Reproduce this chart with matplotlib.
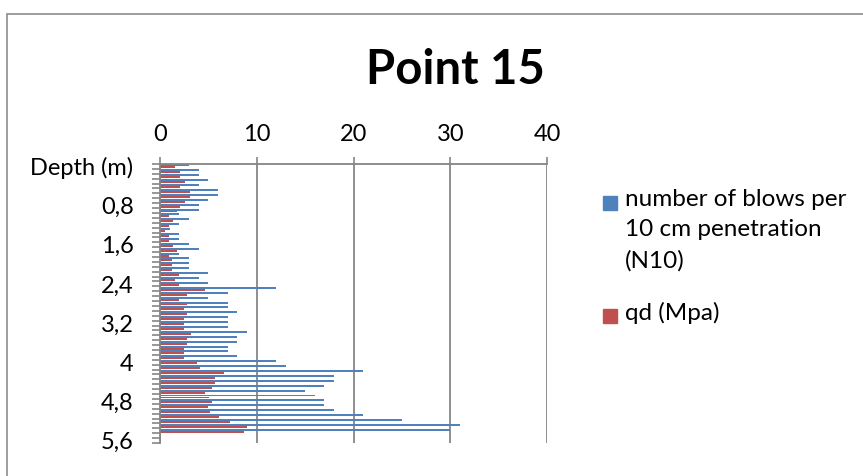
import numpy as np
import matplotlib
matplotlib.use("Agg")
import matplotlib.pyplot as plt
from matplotlib.patches import Rectangle

plt.rcParams['font.family'] = ['Lato', 'DejaVu Sans']

# depth categories (0.1 m steps), first one carries the header text
depth_labels = ["Depth (m)"] + [("%.1f" % (i / 10)).replace(".", ",").replace(",0", "") for i in range(1, 57)]

# number of blows per 10 cm penetration (N10)
blows = [3, 4, 4, 5, 4, 6, 6, 5, 4, 4,
         2, 3, 2, 1, 2, 2, 3, 4, 2, 3,
         3, 3, 5, 4, 5, 12, 7, 5, 7, 7,
         8, 7, 7, 7, 9, 8, 8, 7, 7, 8,
         12, 13, 21, 18, 18, 17, 15, 16, 17, 17,
         18, 21, 25, 31, 30, np.nan, np.nan]

# qd (Mpa)
qd = [1.55, 2.07, 2.07, 2.6, 2.07, 3.1, 3.1, 2.6, 2.07, 1.8,
      0.93, 1.35, 0.93, 0.5, 0.93, 0.93, 1.35, 1.8, 0.93, 1.2,
      1.2, 1.2, 2.0, 1.55, 2.0, 4.7, 2.76, 2.0, 2.76, 2.45,
      2.76, 2.45, 2.45, 2.45, 3.2, 2.76, 2.76, 2.45, 2.45, 2.5,
      3.8, 4.1, 6.65, 5.7, 5.7, 5.35, 4.7, 5.07, 5.35, 4.93,
      5.2, 6.07, 7.2, 8.97, 8.7, np.nan, np.nan]

series_names = ["number of blows per\n10 cm penetration\n(N10)", "qd (Mpa)"]
blue = "#4F81BD"
red = "#C0504D"

W, H = 863, 476
fig = plt.figure(figsize=(W / 100, H / 100), dpi=100)
ax = fig.add_axes([160 / W, 1 - 443 / H, 387 / W, 279 / H])

# chart frame
fig.patches.append(Rectangle((7 / W, -0.1), 1.1, 1.1 - 14 / H, transform=fig.transFigure,
                             fill=False, edgecolor="#8c8c8c", linewidth=1.2))

y = np.arange(len(depth_labels))
h = 0.4
ax.barh(y - h / 2, blows, height=h, color=blue, linewidth=0)
ax.barh(y + h / 2, qd, height=h, color=red, linewidth=0)

ax.set_xlim(0, 40)
ax.set_ylim(len(depth_labels) - 0.5, -0.5)
ax.set_xticks([0, 10, 20, 30, 40])
ax.xaxis.tick_top()
ax.grid(axis="x", color="#868686", linewidth=1.3)
ax.set_axisbelow(True)

ax.set_yticks(y[::8])
ax.set_yticklabels(depth_labels[::8])
ax.set_yticks(np.arange(-0.5, len(depth_labels)), minor=True)
ax.tick_params(axis="y", which="major", length=0, pad=19)
ax.tick_params(axis="y", which="minor", length=6, color="#868686", width=1.2)
ax.tick_params(axis="x", length=5, color="#868686", width=1.2, pad=9)
ax.tick_params(labelsize=17)

for s in ["right", "bottom"]:
    ax.spines[s].set_visible(False)
for s in ["left", "top"]:
    ax.spines[s].set_color("#868686")
    ax.spines[s].set_linewidth(1.3)

fig.text(455 / W, 1 - 70 / H, "Point 15", ha="center", va="center", fontsize=34, fontweight="bold")

# legend, square aligned with the first text line like Excel does
for name, col, ytop in [(series_names[0], blue, 203), (series_names[1], red, 316)]:
    fig.patches.append(Rectangle((603 / W, 1 - (ytop + 7) / H), 14 / W, 14 / H,
                                 transform=fig.transFigure, color=col))
    fig.text(625 / W, 1 - (ytop - 14) / H, name, ha="left", va="top", fontsize=17.5,
             linespacing=1.55)

fig.savefig("out.png", dpi=100)
